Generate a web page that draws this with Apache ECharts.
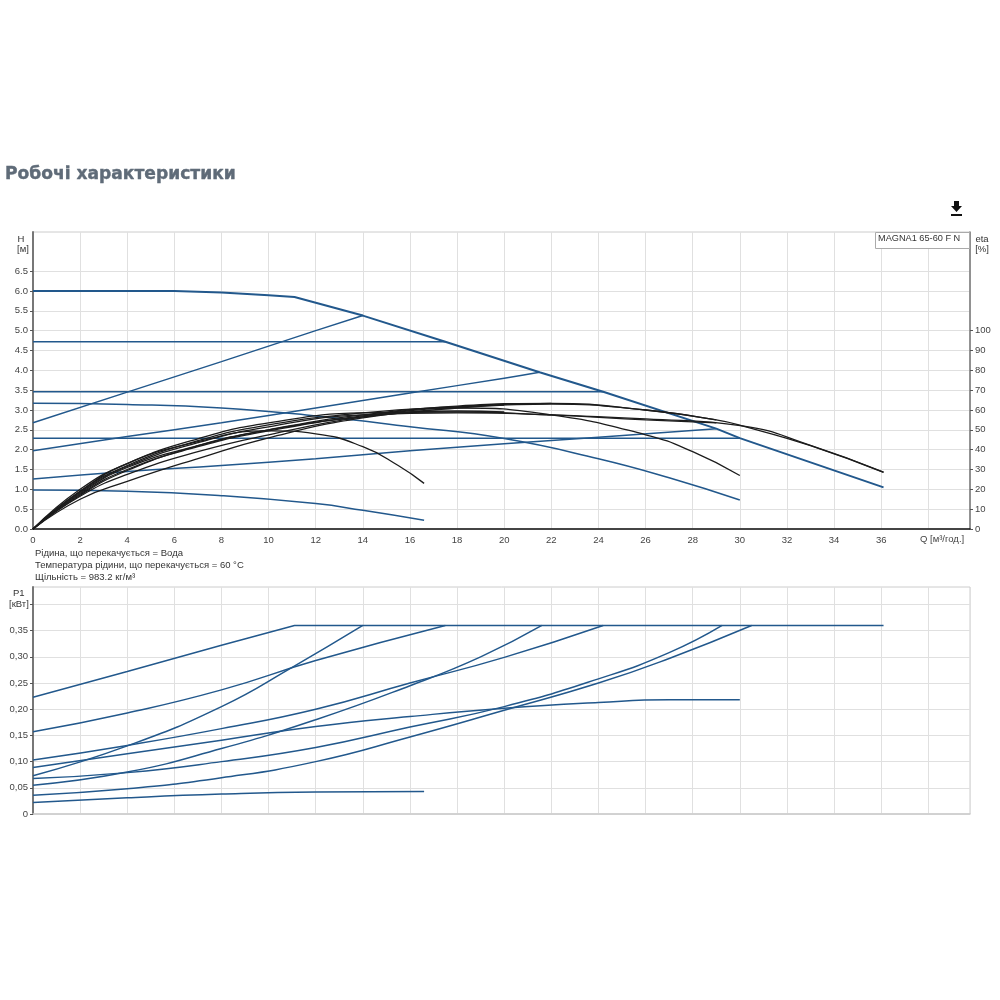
<!DOCTYPE html>
<html>
<head>
<meta charset="utf-8">
<style>
  html, body { margin: 0; padding: 0; background: #fff; }
  #main { width: 1000px; height: 1000px; }
</style>
<script src="https://cdn.jsdelivr.net/npm/echarts@6/dist/echarts.min.js"></script>
</head>
<body>
<div id="main"></div>
<script>
// tick labels
const qTicks = [0, 2, 4, 6, 8, 10, 12, 14, 16, 18, 20, 22, 24, 26, 28, 30, 32, 34, 36];
const hTicks = [0, 0.5, 1, 1.5, 2, 2.5, 3, 3.5, 4, 4.5, 5, 5.5, 6, 6.5];
const etaTicks = [0, 10, 20, 30, 40, 50, 60, 70, 80, 90, 100];
const pTicks = [0, 0.05, 0.1, 0.15, 0.2, 0.25, 0.3, 0.35];

// напір H, м
const hMax = [[0, 6], [4, 6], [6, 6], [8, 5.96], [10, 5.89], [11.1, 5.85], [14, 5.38], [17.5, 4.72], [21.5, 3.95], [24.2, 3.46], [29, 2.53], [30, 2.29], [36.1, 1.05]];
const hConst1 = [[0, 4.72], [17.5, 4.72]];
const hConst2 = [[0, 3.46], [24.2, 3.46]];
const hConst3 = [[0, 2.29], [30, 2.29]];
const hProp1 = [[0, 2.68], [4, 3.45], [8, 4.22], [12, 5], [14, 5.38]];
const hProp2 = [[0, 1.97], [4, 2.33], [8, 2.68], [12, 3.05], [16, 3.43], [20, 3.8], [21.5, 3.95]];
const hProp3 = [[0, 1.26], [4, 1.45], [8, 1.6], [12, 1.77], [16, 1.97], [20, 2.15], [24, 2.31], [29, 2.53]];
const hCurve1 = [[0, 3.17], [4, 3.14], [8, 3.05], [12, 2.85], [16, 2.58], [20, 2.28], [24, 1.77], [27, 1.29], [30, 0.73]];
const hCurve2 = [[0, 0.98], [4, 0.95], [8, 0.84], [12, 0.64], [14, 0.47], [16.6, 0.22]];

// ККД eta, %
const eta1 = [[0, 0], [2, 19], [4, 33], [7, 44], [10, 49.5], [12, 48], [14, 41.5], [15.5, 32], [16.6, 23]];
const eta2 = [[0, 0], [2, 18], [4, 31], [7, 42], [10, 50], [14, 57.5], [18, 61], [22, 57.5], [26, 47.5], [28, 39], [30, 27]];
const eta3 = [[0, 0], [2, 17], [4, 29.5], [7, 42], [10, 50], [14, 57], [18, 62], [22, 63.3], [26, 60], [29, 55], [30.1, 52], [33, 42], [36.1, 28.5]];
const eta4 = [[0, 0], [2, 20], [4, 33], [7, 45.5], [10, 53.5], [14, 58.5], [18, 59], [22, 57.5], [26, 55.5], [30.1, 52], [33, 42.2], [36.1, 28.7]];
const eta5 = [[0, 0], [2, 19], [4, 32], [7, 44.5], [10, 52.5], [14, 58.5], [18, 61.5], [22, 63], [26, 60], [29, 55]];
const eta6 = [[0, 0], [2, 18.5], [4, 31.5], [7, 43.5], [10, 51.5], [14, 57.5], [18, 58.5], [22, 57.5], [26, 55], [29, 53.5]];
const eta7 = [[0, 0], [2, 17.5], [4, 30], [7, 41.5], [10, 49.5], [14, 56.5], [18, 59.5], [20, 59]];
const eta8 = [[0, 0], [2, 16.5], [4, 27.5], [7, 39], [10, 47.5], [14, 56.5], [18, 61.5], [22, 63.3]];
const eta9 = [[0, 0], [2, 15], [4, 24], [7, 35.5], [10, 46], [14, 56], [18, 61], [20, 62.5]];

// потужність P1, кВт
const pMax = [[0, 0.223], [4, 0.272], [8, 0.322], [11.1, 0.36], [36.1, 0.36]];
const pProp1 = [[0, 0.157], [4, 0.193], [8, 0.237], [12, 0.293], [17.5, 0.36]];
const pSteep = [[0, 0.073], [4, 0.13], [8, 0.205], [11, 0.28], [14, 0.36]];
const pProp2 = [[0, 0.103], [4, 0.131], [8, 0.163], [12, 0.2], [16, 0.25], [20, 0.299], [24.2, 0.36]];
const pConst2 = [[0, 0.055], [4, 0.08], [8, 0.125], [12, 0.18], [16, 0.245], [19, 0.3], [21.6, 0.36]];
const pCurve1 = [[0, 0.089], [4, 0.115], [8, 0.141], [12, 0.167], [16, 0.186], [20, 0.202], [24, 0.213], [27, 0.218], [30, 0.218]];
const pProp3 = [[0, 0.068], [4, 0.079], [8, 0.1], [12, 0.127], [16, 0.166], [20, 0.205], [24, 0.258], [27, 0.308], [29.25, 0.36]];
const pConst3 = [[0, 0.036], [4, 0.048], [8, 0.069], [12, 0.1], [16, 0.147], [20, 0.198], [24, 0.25], [27, 0.297], [30.5, 0.36]];
const pCurve2 = [[0, 0.022], [4, 0.031], [8, 0.038], [12, 0.042], [16.6, 0.043]];

const blue = '#22588c';
const black = '#1c1c1c';
const gridColor = '#e0e0e0';
const font = '"Liberation Sans", Arial, sans-serif';

function blueLine(data, xi, yi, smooth, width) {
  return {
    type: 'line', data: data, xAxisIndex: xi, yAxisIndex: yi,
    symbol: 'none', smooth: smooth ? 0.5 : false,
    lineStyle: { color: blue, width: width || 1.5 }, silent: true
  };
}
function etaLine(data) {
  return {
    type: 'line', data: data, xAxisIndex: 0, yAxisIndex: 1,
    symbol: 'none', smooth: 0.5,
    lineStyle: { color: black, width: 1.3 }, silent: true
  };
}
function label(x, y, text, opts) {
  return {
    type: 'text', x: x, y: y,
    style: Object.assign({ text: text, font: '9.5px ' + font, fill: '#333' }, opts || {})
  };
}

var myChart = echarts.init(document.getElementById('main'));
var option = {
  animation: false,
  backgroundColor: '#fff',
  grid: [
    { left: 33, right: 30, top: 232, height: 297, show: true, borderColor: '#ccc', borderWidth: 1 },
    { left: 33, right: 30, top: 587, height: 227, show: true, borderColor: '#ccc', borderWidth: 1 }
  ],
  xAxis: [
    {
      type: 'value', gridIndex: 0, min: 0, max: 39.77, interval: 2,
      axisLine: { show: true, onZero: false, lineStyle: { color: '#111', width: 1.5 } },
      axisTick: { show: false },
      axisLabel: { customValues: qTicks, color: '#444', fontSize: 9.5, fontFamily: font, margin: 6, hideOverlap: false },
      splitLine: { show: true, lineStyle: { color: gridColor, width: 1 } }
    },
    {
      type: 'value', gridIndex: 1, min: 0, max: 39.77, interval: 2,
      axisLine: { show: true, onZero: false, lineStyle: { color: '#ccc', width: 1.5 } },
      axisTick: { show: false },
      axisLabel: { show: false },
      splitLine: { show: true, lineStyle: { color: gridColor, width: 1 } }
    }
  ],
  yAxis: [
    {
      type: 'value', gridIndex: 0, min: 0, max: 7.487, interval: 0.5,
      axisLine: { show: true, onZero: false, lineStyle: { color: '#777', width: 2 } },
      axisTick: { show: true, length: 3, customValues: hTicks, lineStyle: { color: '#555' } },
      axisLabel: {
        customValues: hTicks, color: '#444', fontSize: 9.5, fontFamily: font, margin: 5,
        formatter: function (v) { return v.toFixed(1); }
      },
      splitLine: { show: true, lineStyle: { color: gridColor, width: 1 } }
    },
    {
      type: 'value', gridIndex: 0, position: 'right', min: 0, max: 149.74, interval: 10,
      axisLine: { show: true, onZero: false, lineStyle: { color: '#777', width: 1.5 } },
      axisTick: { show: true, length: 3, customValues: etaTicks, lineStyle: { color: '#555' } },
      axisLabel: { customValues: etaTicks, color: '#444', fontSize: 9.5, fontFamily: font, margin: 5 },
      splitLine: { show: false }
    },
    {
      type: 'value', gridIndex: 1, min: 0, max: 0.4334, interval: 0.05,
      axisLine: { show: true, onZero: false, lineStyle: { color: '#777', width: 2 } },
      axisTick: { show: true, length: 3, customValues: pTicks.concat([0.4]), lineStyle: { color: '#555' } },
      axisLabel: {
        customValues: pTicks, color: '#444', fontSize: 9.5, fontFamily: font, margin: 5,
        formatter: function (v) { return v === 0 ? '0' : v.toFixed(2).replace('.', ','); }
      },
      splitLine: { show: true, lineStyle: { color: gridColor, width: 1 } }
    }
  ],
  series: [
    blueLine(hMax, 0, 0, false, 2),
    blueLine(hConst1, 0, 0, false),
    blueLine(hConst2, 0, 0, false),
    blueLine(hConst3, 0, 0, false),
    blueLine(hProp1, 0, 0, true),
    blueLine(hProp2, 0, 0, true),
    blueLine(hProp3, 0, 0, true),
    blueLine(hCurve1, 0, 0, true),
    blueLine(hCurve2, 0, 0, true),
    etaLine(eta1), etaLine(eta2), etaLine(eta3), etaLine(eta4), etaLine(eta5),
    etaLine(eta6), etaLine(eta7), etaLine(eta8), etaLine(eta9),
    blueLine(pMax, 1, 2, false),
    blueLine(pProp1, 1, 2, true),
    blueLine(pSteep, 1, 2, true),
    blueLine(pProp2, 1, 2, true),
    blueLine(pConst2, 1, 2, true),
    blueLine(pCurve1, 1, 2, true),
    blueLine(pProp3, 1, 2, true),
    blueLine(pConst3, 1, 2, true),
    blueLine(pCurve2, 1, 2, true)
  ],
  graphic: [
    label(5, 166, 'Робочі характеристики', { font: 'bold 17.1px "DejaVu Sans", sans-serif', fill: '#5f6b78', stroke: '#5f6b78', lineWidth: 0.4 }),
    // кнопка завантаження
    { type: 'polygon', shape: { points: [[954, 201], [959, 201], [959, 206], [962, 206], [956.5, 212], [951, 206], [954, 206]] }, style: { fill: '#111' } },
    { type: 'rect', shape: { x: 951, y: 214, width: 11, height: 2 }, style: { fill: '#111' } },
    // підпис моделі
    { type: 'rect', shape: { x: 875.5, y: 232.5, width: 94, height: 16 }, style: { fill: '#fff', stroke: '#aaa', lineWidth: 1 } },
    label(878, 234, 'MAGNA1 65-60 F N', { fill: '#333', font: '9.2px ' + font }),
    label(21, 234, 'H', { textAlign: 'center' }),
    label(17, 244, '[м]'),
    label(982, 234, 'eta', { textAlign: 'center' }),
    label(982, 244, '[%]', { textAlign: 'center' }),
    label(920, 534, 'Q [м³/год.]', { fill: '#444' }),
    label(35, 548, 'Рідина, що перекачується = Вода'),
    label(35, 560, 'Температура рідини, що перекачується = 60 °C'),
    label(35, 572, 'Щільність = 983.2 кг/м³'),
    label(13, 588, 'P1'),
    label(9, 599, '[кВт]')
  ].map(function (g) { g.z = 10; return g; })
};
myChart.setOption(option);
window.onresize = myChart.resize;
</script>
</body>
</html>
